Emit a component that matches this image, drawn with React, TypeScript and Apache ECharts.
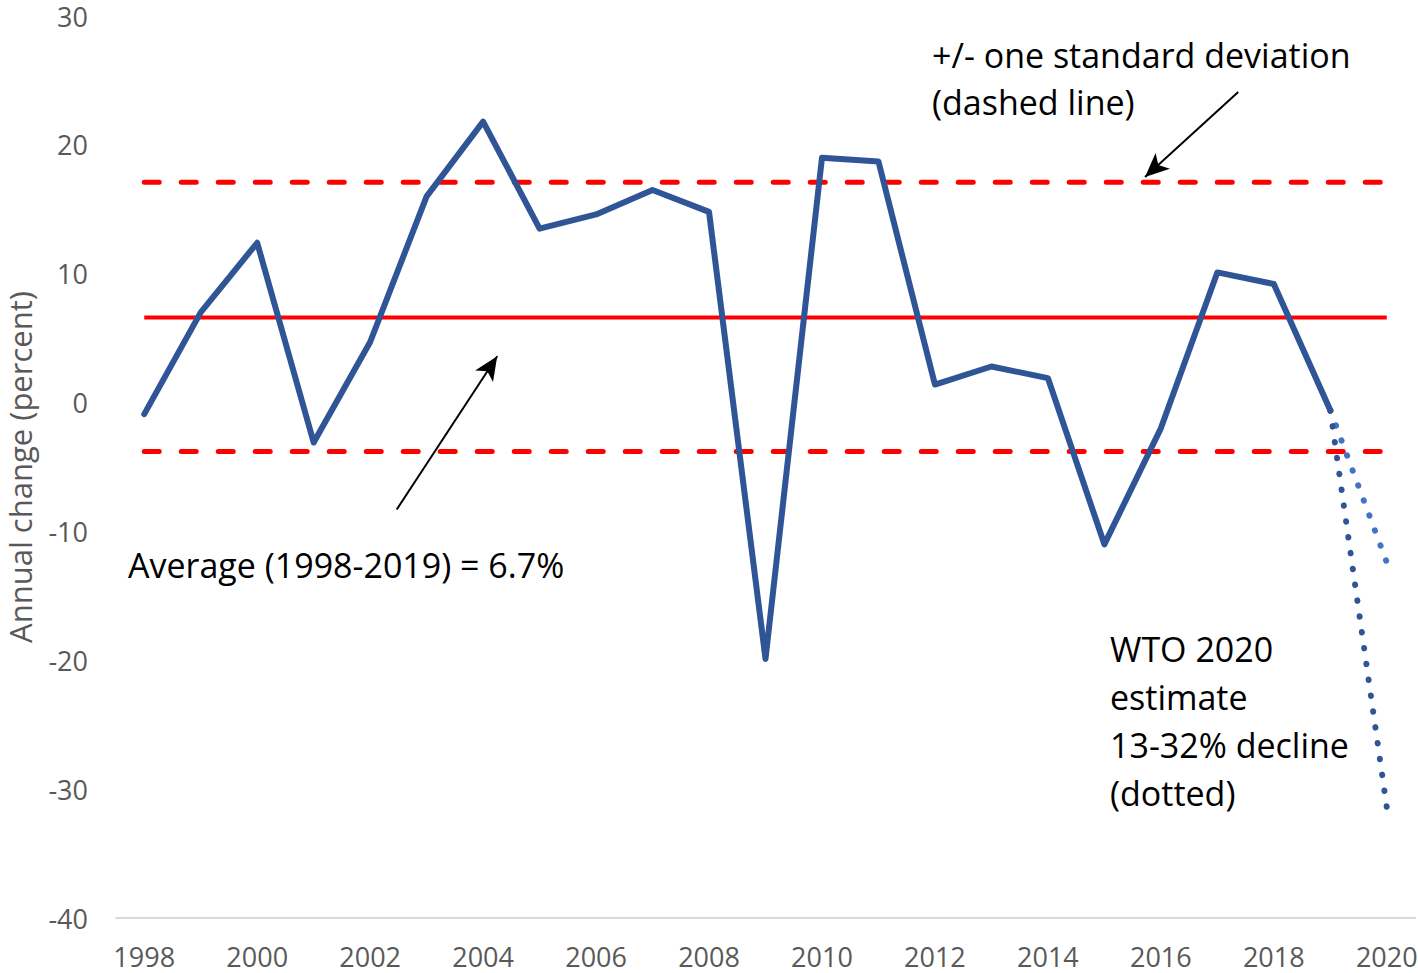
import React, { useEffect, useRef } from "react";
import * as echarts from "echarts";

const years = [1998, 1999, 2000, 2001, 2002, 2003, 2004, 2005, 2006, 2007, 2008, 2009, 2010, 2011, 2012, 2013, 2014, 2015, 2016, 2017, 2018, 2019];
const tradeChange = [-0.9, 7.0, 12.4, -3.1, 4.7, 16.0, 21.8, 13.5, 14.6, 16.5, 14.8, -19.9, 19.0, 18.7, 1.4, 2.8, 1.9, -11.0, -2.0, 10.1, 9.2, -0.6];
const wtoYears = [2019, 2020];
const wtoOptimistic = [-0.6, -12.4];
const wtoPessimistic = [-0.6, -31.4];
const averageValue = 6.6;
const upperSd = 17.1;
const lowerSd = -3.8;
const refYears = [1998, 2020];
const xTickLabels = [1998, 2000, 2002, 2004, 2006, 2008, 2010, 2012, 2014, 2016, 2018, 2020];
const yMin = -40;
const yMax = 30;
const yStep = 10;

const FONT = "'Open Sans', Lato, sans-serif";

export default function App() {
  const ref = useRef<HTMLDivElement>(null);
  useEffect(() => {
    document.body.style.margin = "0";
    const chart = echarts.init(ref.current!, null, { renderer: "svg" });
    const pair = (xs: number[], ys: number[]) => xs.map((x, i) => [x, ys[i]]);
    const flat = (v: number) => refYears.map((x) => [x, v]);
    chart.setOption({
      animation: false,
      backgroundColor: "#ffffff",
      textStyle: { fontFamily: FONT },
      grid: { left: 116, right: 3, top: 16, bottom: 55, containLabel: false, outerBoundsMode: "none" },
      xAxis: {
        type: "value",
        min: 1997.5,
        max: 2020.5,
        splitLine: { show: false },
        axisTick: { show: false },
        axisLine: { show: true, onZero: false, lineStyle: { color: "#d9d9d9", width: 2 } },
        axisLabel: {
          customValues: xTickLabels,
          formatter: (v: number) => String(v),
          color: "#595959",
          fontSize: 27,
          lineHeight: 28,
          fontFamily: FONT,
          margin: 24,
        },
      },
      yAxis: {
        type: "value",
        min: yMin,
        max: yMax,
        interval: yStep,
        splitLine: { show: false },
        axisLine: { show: false },
        axisTick: { show: false },
        axisLabel: { color: "#595959", fontSize: 27, lineHeight: 26, fontFamily: FONT, margin: 28 },
        name: "Annual change (percent)",
        nameLocation: "middle",
        nameGap: 80,
        nameRotate: 90,
        nameTextStyle: { color: "#595959", fontSize: 31, lineHeight: 32, fontFamily: FONT },
      },
      series: [
        {
          type: "line",
          name: "Average",
          data: flat(averageValue),
          symbol: "none",
          lineStyle: { color: "#ff0000", width: 4 },
          z: 2,
        },
        {
          type: "line",
          name: "+1 SD",
          data: flat(upperSd),
          symbol: "none",
          lineStyle: { color: "#ff0000", width: 5, type: [15, 22], cap: "round" },
          z: 2,
        },
        {
          type: "line",
          name: "-1 SD",
          data: flat(lowerSd),
          symbol: "none",
          lineStyle: { color: "#ff0000", width: 5, type: [15, 22], cap: "round" },
          z: 2,
        },
        {
          type: "line",
          name: "WTO optimistic",
          data: pair(wtoYears, wtoOptimistic),
          symbol: "none",
          lineStyle: { color: "#4472c4", width: 6, type: [0.5, 15.5], cap: "round" },
          z: 3,
        },
        {
          type: "line",
          name: "WTO pessimistic",
          data: pair(wtoYears, wtoPessimistic),
          symbol: "none",
          lineStyle: { color: "#2f5597", width: 6, type: [0.5, 15.5], cap: "round" },
          z: 3,
        },
        {
          type: "line",
          name: "Annual change",
          data: pair(years, tradeChange),
          symbol: "none",
          lineStyle: { color: "#2f5597", width: 6, cap: "round", join: "round" },
          z: 4,
          markLine: {
            silent: true,
            symbol: ["none", "arrow"],
            symbolSize: [16, 24],
            label: { show: false },
            lineStyle: { color: "#000000", width: 2, type: "solid" },
            data: [
              [{ coord: [2017.37, 24.1] }, { coord: [2015.72, 17.5] }],
              [{ coord: [2002.47, -8.3] }, { coord: [2004.25, 3.6] }],
            ],
          },
        },
      ],
      graphic: [
        {
          type: "text",
          left: 932,
          top: 31,
          style: {
            text: "+/- one standard deviation\n(dashed line)",
            fill: "#000000",
            font: `34px ${FONT}`,
            lineHeight: 47,
          },
        },
        {
          type: "text",
          left: 128,
          top: 541,
          style: {
            text: "Average (1998-2019) = 6.7%",
            fill: "#000000",
            font: `34px ${FONT}`,
            lineHeight: 47,
          },
        },
        {
          type: "text",
          left: 1110,
          top: 625,
          style: {
            text: "WTO 2020\nestimate\n13-32% decline\n(dotted)",
            fill: "#000000",
            font: `34px ${FONT}`,
            lineHeight: 48,
          },
        },
      ],
    });
    return () => chart.dispose();
  }, []);
  return <div ref={ref} style={{ width: 1418, height: 973 }} />;
}
